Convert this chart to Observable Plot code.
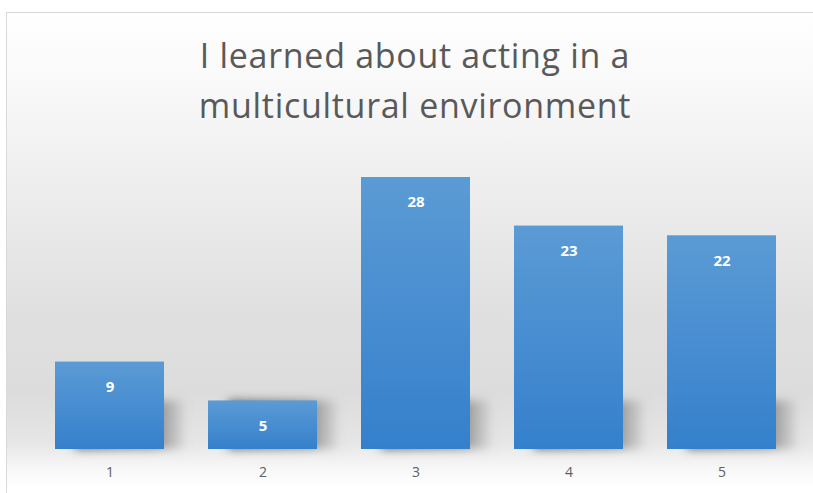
<!DOCTYPE html>
<html>
<head>
<meta charset="utf-8">
<script src="https://cdn.jsdelivr.net/npm/d3@7"></script>
<script src="https://cdn.jsdelivr.net/npm/@observablehq/plot@0.6"></script>
<style>
  html, body { margin: 0; padding: 0; background: #fff; overflow: hidden; }
  #wrap { position: relative; width: 813px; height: 493px; overflow: hidden; }
  #bg {
    position: absolute; left: 6px; top: 12px; width: 840px; height: 520px;
    border: 1px solid #d9d9d9; box-sizing: border-box;
    background: linear-gradient(to bottom, #ffffff 0px, #f6f6f6 100px, #ebebeb 200px, #e0e0e0 300px, #dcdcdc 380px, #e6e6e6 430px, #f7f7f7 455px, #ffffff 475px);
  }
  #title {
    position: relative; height: 130px; box-sizing: border-box;
    padding-top: 30px; padding-left: 17px;
    font-family: "Open Sans", sans-serif; font-size: 34px; line-height: 50px;
    letter-spacing: 0.7px;
    color: #595959; text-align: center;
  }
  #chart { position: relative; }
</style>
</head>
<body>
<div id="wrap">
  <div id="bg"></div>
  <div id="title">I learned about acting in a<br>multicultural environment</div>
  <div id="chart"></div>
</div>
<script>
const categories = ["1", "2", "3", "4", "5"];
const counts = [9, 5, 28, 23, 22];

const data = categories.map((c, i) => ({ category: c, value: counts[i] }));

const chart = Plot.plot({
  width: 813,
  height: 363,
  marginLeft: 32,
  marginRight: 14,
  marginTop: 47,
  marginBottom: 44,
  style: { background: "transparent", fontFamily: "Open Sans, sans-serif", overflow: "visible" },
  x: { domain: categories, paddingInner: 0.29, paddingOuter: 0.145, label: null },
  y: { domain: [0, 28], axis: null },
  marks: [
    Plot.barY(data, { x: "category", y: d => Math.min(d.value, 5), dx: 20, fill: "url(#shadowGrad)" }),
    Plot.barY(data, { x: "category", y: "value", fill: "url(#barGrad)" }),
    Plot.text(data, { x: "category", y: "value", text: d => String(d.value), dy: 25, fill: "white", fontWeight: "bold", fontSize: 15 }),
    Plot.axisX({ tickSize: 0, tickPadding: 18, fontSize: 14, color: "#606060", label: null })
  ]
});

const ns = "http://www.w3.org/2000/svg";
const defs = document.createElementNS(ns, "defs");
defs.innerHTML = `
  <linearGradient id="barGrad" x1="0" y1="0" x2="0" y2="1">
    <stop offset="0" stop-color="#5b9bd5"/>
    <stop offset="1" stop-color="#3580cc"/>
  </linearGradient>
  <linearGradient id="shadowGrad" x1="0" y1="0" x2="1" y2="0">
    <stop offset="0" stop-color="#606060" stop-opacity="1"/>
    <stop offset="0.75" stop-color="#777777" stop-opacity="0.8"/>
    <stop offset="1" stop-color="#999999" stop-opacity="0.2"/>
  </linearGradient>
  <filter id="blur" x="-30%" y="-30%" width="160%" height="160%">
    <feGaussianBlur stdDeviation="5"/>
  </filter>`;
chart.insertBefore(defs, chart.firstChild);
const barGroups = chart.querySelectorAll('g[aria-label="bar"]');
if (barGroups.length) barGroups[0].setAttribute("filter", "url(#blur)");

document.getElementById("chart").appendChild(chart);
</script>
</body>
</html>
